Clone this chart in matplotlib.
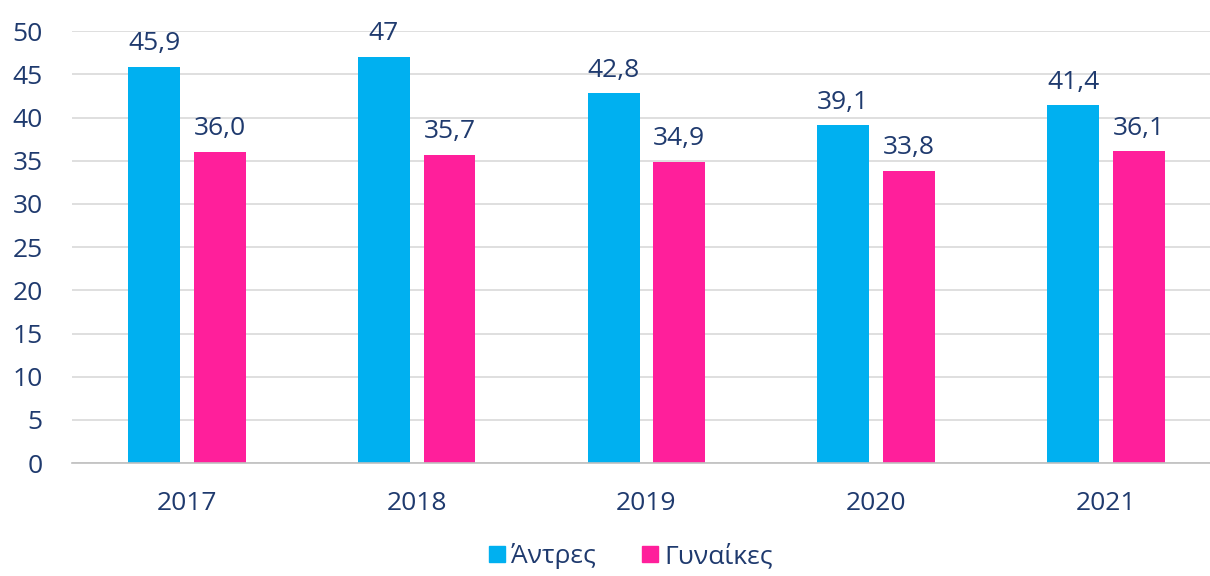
import numpy as np
import matplotlib.pyplot as plt
from matplotlib.lines import Line2D

plt.rcParams['font.family'] = ['Open Sans', 'DejaVu Sans']

years = ['2017', '2018', '2019', '2020', '2021']
men = [45.9, 47.0, 42.8, 39.1, 41.4]
women = [36.0, 35.7, 34.9, 33.8, 36.1]
men_labels = ['45,9', '47', '42,8', '39,1', '41,4']
women_labels = ['36,0', '35,7', '34,9', '33,8', '36,1']
series_names = ['Άντρες', 'Γυναίκες']

blue = '#00B0F0'
pink = '#FF1F9B'
text_col = '#1F3A6E'

fig = plt.figure(figsize=(12.1, 5.76), dpi=100)
ax = fig.add_axes([0.0595, 0.196, 0.9405, 0.75])

x = np.arange(len(years))
w = 0.226
off = 0.143
b1 = ax.bar(x - off, men, w, color=blue, zorder=3)
b2 = ax.bar(x + off, women, w, color=pink, zorder=3)

for bars, labs in [(b1, men_labels), (b2, women_labels)]:
    for b, lab in zip(bars, labs):
        ax.annotate(lab, (b.get_x() + b.get_width() / 2, b.get_height()),
                    xytext=(0, 12), textcoords='offset points',
                    ha='center', va='baseline', fontsize=19, color=text_col)

ax.set_ylim(0, 50)
ax.set_xlim(-0.5, 4.453)
ax.set_yticks(range(0, 51, 5))
ax.set_xticks(x)
ax.set_xticklabels(years)
ax.grid(axis='y', color='#D9D9D9', linewidth=1.2, zorder=0)
ax.tick_params(length=0, labelsize=19, labelcolor=text_col)
ax.tick_params(axis='y', pad=21)
ax.tick_params(axis='x', pad=20)
for s in ['top', 'right', 'left']:
    ax.spines[s].set_visible(False)
ax.spines['bottom'].set_color('#BFBFBF')
ax.spines['bottom'].set_linewidth(1.2)
ax.spines['bottom'].set_zorder(4)

handles = [Line2D([], [], marker='s', linestyle='', markersize=12, color=c)
           for c in (blue, pink)]
fig.legend(handles, series_names, loc='center', bbox_to_anchor=(0.52, 0.035),
           ncol=2, frameon=False, fontsize=19, labelcolor=text_col,
           handletextpad=0.1, columnspacing=1.6, handlelength=0.9)

fig.savefig('out.png', dpi=100)
